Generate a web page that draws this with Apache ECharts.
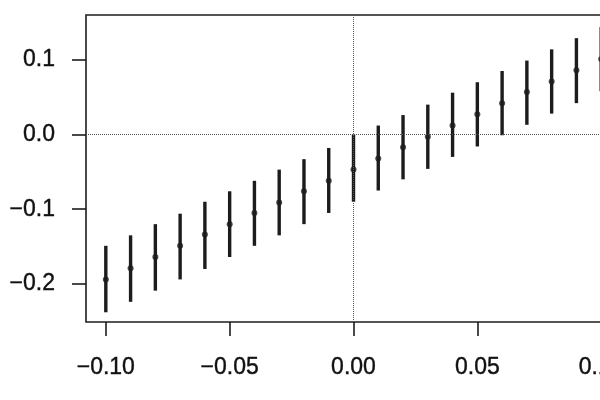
<!DOCTYPE html>
<html><head><meta charset="utf-8">
<script src="https://cdn.jsdelivr.net/npm/echarts@6/dist/echarts.min.js"></script>
<style>html,body{margin:0;padding:0;background:#fff}#c{width:600px;height:400px}</style>
</head><body><div id="c"></div>
<script>
const xValues = [-0.10,-0.09,-0.08,-0.07,-0.06,-0.05,-0.04,-0.03,-0.02,-0.01,0.00,0.01,0.02,0.03,0.04,0.05,0.06,0.07,0.08,0.09,0.10];
const centers = [-0.194,-0.179,-0.164,-0.149,-0.134,-0.120,-0.105,-0.091,-0.076,-0.062,-0.047,-0.032,-0.017,-0.003,0.012,0.027,0.042,0.057,0.071,0.086,0.101];
const lowers  = [-0.238,-0.224,-0.209,-0.194,-0.180,-0.164,-0.149,-0.135,-0.120,-0.105,-0.090,-0.075,-0.060,-0.046,-0.030,-0.016,-0.001,0.013,0.028,0.042,0.058];
const uppers  = [-0.149,-0.135,-0.120,-0.106,-0.090,-0.076,-0.062,-0.047,-0.033,-0.018,0.000,0.012,0.026,0.040,0.056,0.070,0.085,0.099,0.114,0.129,0.144];
const xTicks = [-0.10,-0.05,0.00,0.05,0.10];
const yTicks = [-0.2,-0.1,0.0,0.1];

const fmt = (v, d) => { const s = Math.abs(v).toFixed(d); return (v < -1e-9 ? '\u2212' : '') + s; };
const ink = '#1c1c1c';
const font = 'Liberation Sans, Arial, Helvetica, sans-serif';
const labelStyle = {fontSize: 23, color: '#111', fontFamily: font, textBorderColor: '#111', textBorderWidth: 0.4};

const chart = echarts.init(document.getElementById('c'), null, {renderer: 'canvas'});
chart.setOption({
  animation: false,
  backgroundColor: '#fff',
  grid: {left: 86, top: 15, bottom: 78, right: -21, containLabel: false, outerBoundsMode: 'none',
         show: true, borderColor: ink, borderWidth: 1.6, backgroundColor: 'transparent'},
  xAxis: {
    type: 'value', min: -0.108, max: 0.108,
    axisLine: {show: false, onZero: false},
    splitLine: {show: false},
    axisTick: {show: true, customValues: xTicks, length: 14, inside: false, lineStyle: {color: ink, width: 1.6}},
    axisLabel: Object.assign({customValues: xTicks, formatter: v => fmt(v, 2), margin: 34, hideOverlap: false}, labelStyle)
  },
  yAxis: {
    type: 'value', min: -0.251, max: 0.160,
    axisLine: {show: false, onZero: false},
    splitLine: {show: false},
    axisTick: {show: true, customValues: yTicks, length: 14, inside: false, lineStyle: {color: ink, width: 1.6}},
    axisLabel: Object.assign({customValues: yTicks, formatter: v => fmt(v, 1), margin: 31}, labelStyle)
  },
  series: [
    {
      type: 'custom',
      data: xValues.map((x, i) => [x, lowers[i], uppers[i]]),
      renderItem: (params, api) => {
        const a = api.coord([api.value(0), api.value(1)]);
        const b = api.coord([api.value(0), api.value(2)]);
        return {type: 'line', shape: {x1: a[0], y1: a[1], x2: b[0], y2: b[1]}, style: {stroke: ink, lineWidth: 3.4}};
      },
      markLine: {
        silent: true, symbol: 'none', label: {show: false},
        lineStyle: {type: 'dotted', color: '#555', width: 1},
        data: [{yAxis: 0}, {xAxis: 0}]
      },
      z: 2
    },
    {
      type: 'scatter',
      data: xValues.map((x, i) => [x, centers[i]]),
      symbol: 'circle', symbolSize: 6,
      itemStyle: {color: ink},
      z: 3
    }
  ]
});
</script></body></html>
